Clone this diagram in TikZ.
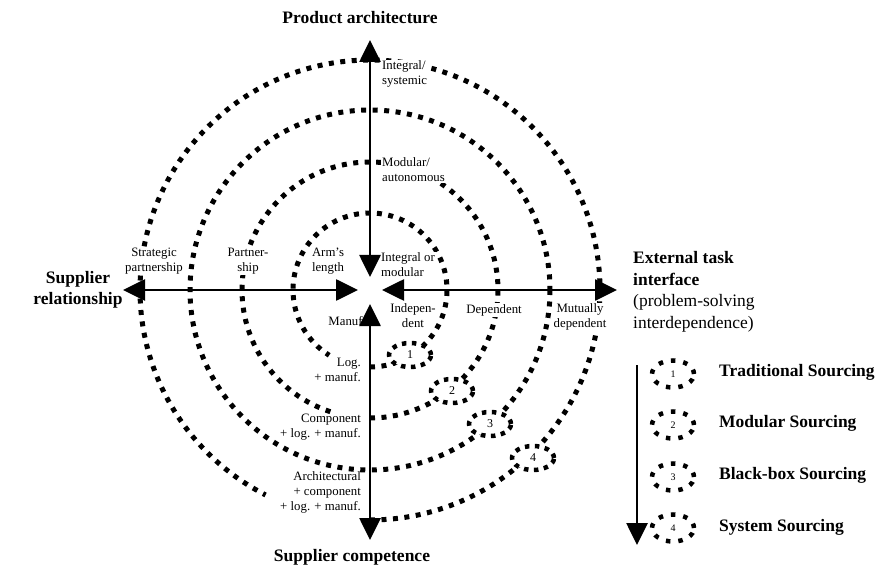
\documentclass[tikz,border=0pt]{standalone}
\usepackage{fontspec}
\setmainfont{Liberation Serif}
\usetikzlibrary{arrows.meta,shapes.geometric}
\begin{document}
\begin{tikzpicture}[x=1pt,y=-1pt,
  dotc/.style={line width=5pt, dash pattern=on 5pt off 6.5pt},
  axisline/.style={line width=2.7pt, {Triangle[length=22pt,width=21pt]}-{Triangle[length=22pt,width=21pt]}},
  mk/.style={ellipse, draw, fill=white, line width=4.5pt, dash pattern=on 4.5pt off 5.5pt, minimum width=42pt, minimum height=24pt, inner sep=0pt, font=\fontsize{12}{12}\selectfont},
  lg/.style={mk, minimum width=42pt, minimum height=27pt, dash pattern=on 4.5pt off 8pt, font=\fontsize{10}{10}\selectfont},
  lab/.style={font=\fontsize{12.8}{15}\selectfont, inner sep=1pt},
  labw/.style={lab, fill=white},
  ttl/.style={font=\fontsize{17.5}{20.5}\selectfont\bfseries, inner sep=0pt},
  leg/.style={font=\fontsize{17.5}{20}\selectfont\bfseries, anchor=west, inner sep=0pt}
]
\useasboundingbox (0,0) rectangle (880,569);
\coordinate (C) at (370,290);

% spiral-like dotted circles
\draw[dotc] (C) ++(90:77) arc[start angle=90, end angle=-238, radius=77];
\draw[dotc] (C) ++(90:128) arc[start angle=90, end angle=-252, radius=128];
\draw[dotc] (C) circle[radius=180];
\draw[dotc] (C) ++(90:230) arc[start angle=90, end angle=-243, radius=230];

% markers on the circles
\node[mk] (e1) at (410,355) {1};
\node[mk] (e2) at (452,391) {2};
\node[mk] (e3) at (490,424) {3};
\node[mk] (e4) at (533,458) {4};

% labels on the axes
\node[labw, anchor=west, align=left] (l1) at (381,74) {Integral/\\systemic};
\node[labw, anchor=west, align=left] (l2) at (381,170) {Modular/\\autonomous};
\node[labw, anchor=west, align=left] (l3) at (380,265) {Integral or\\modular};
\node[labw, align=center] (l4) at (154,261) {Strategic\\partnership};
\node[labw, align=center] (l5) at (248,261) {Partner-\\ship};
\node[labw, align=center] (l6) at (328,261) {Arm's\\length};
\node[lab, anchor=east] (l7) at (367,321) {Manuf.};
\node[lab, anchor=east, align=right] (l8) at (362,370) {Log.\\+ manuf.};
\node[lab, anchor=east, align=right] (l9) at (362,427) {Component\\+ log. + manuf.};
\node[lab, anchor=east, align=right] (l10) at (362,492) {Architectural\\+ component\\+ log. + manuf.};
\node[lab, align=center] (l11) at (413,316) {Indepen-\\dent};
\node[labw, align=center] (l12) at (494,310) {Dependent};
\node[labw, align=center] (l13) at (580,317) {Mutually\\dependent};

% axis titles
\node[ttl] (t1) at (360,18) {Product architecture};
\node[ttl] (t2) at (352,557) {Supplier competence};
\node[ttl, align=center] (t3) at (78,290) {Supplier\\relationship};
\node[font=\fontsize{17.5}{21.5}\selectfont, inner sep=0pt, anchor=west, align=left] (t4) at (633,292)
  {\textbf{External task}\\\textbf{interface}\\(problem-solving\\interdependence)};

% axes
\coordinate (tT) at (370,40);
\coordinate (tB) at (370,277);
\coordinate (bT) at (370,304);
\coordinate (bB) at (370,540);
\coordinate (lL) at (123,290);
\coordinate (lR) at (358,290);
\coordinate (rL) at (382,290);
\coordinate (rR) at (617,290);
\draw[axisline] (tT) -- (tB);
\draw[axisline] (bT) -- (bB);
\draw[axisline] (lL) -- (lR);
\draw[axisline] (rL) -- (rR);

% legend
\coordinate (g0) at (637,365);
\coordinate (g1) at (637,545);
\draw[line width=2.7pt, -{Triangle[length=22pt,width=21pt]}] (g0) -- (g1);
\node[lg] (k1) at (673,374) {1};
\node[lg] (k2) at (673,425) {2};
\node[lg] (k3) at (673,477) {3};
\node[lg] (k4) at (673,528) {4};
\node[leg] (s1) at (719,372) {Traditional Sourcing};
\node[leg] (s2) at (719,423) {Modular Sourcing};
\node[leg] (s3) at (719,475) {Black-box Sourcing};
\node[leg] (s4) at (719,527) {System Sourcing};
\end{tikzpicture}
\end{document}
